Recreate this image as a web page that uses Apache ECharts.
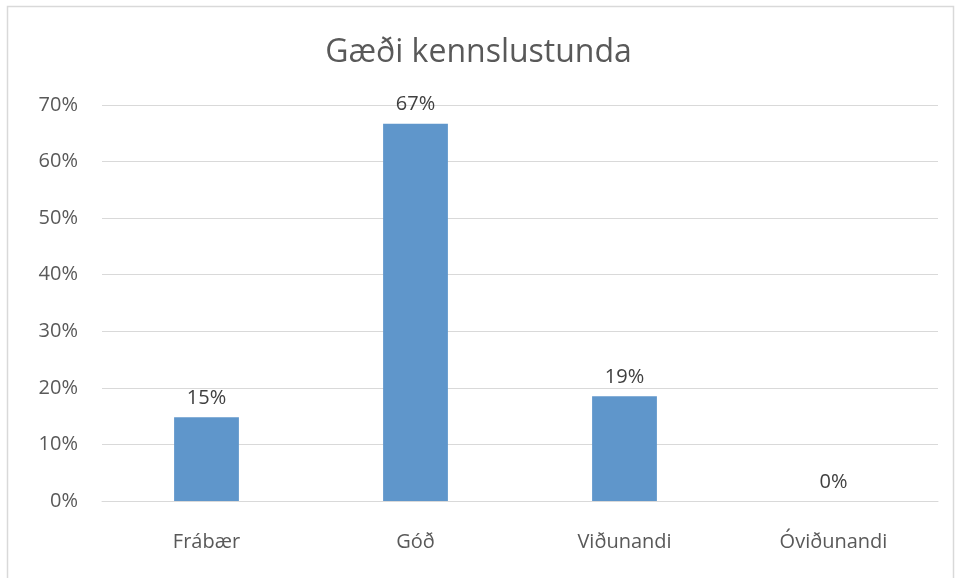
<!DOCTYPE html>
<html>
<head>
<meta charset="utf-8">
<script src="https://cdn.jsdelivr.net/npm/echarts@6/dist/echarts.min.js"></script>
<style>
    html, body { margin: 0; padding: 0; background: #fff; }
    #chart { width: 957px; height: 578px; }
</style>
</head>
<body>
<div id="chart"></div>
<script>
const categories = ['Frábær', 'Góð', 'Viðunandi', 'Óviðunandi'];
const shares = [14.8, 66.7, 18.5, 0];
const yTicks = [0, 10, 20, 30, 40, 50, 60, 70];

const font = '"Open Sans", "Noto Sans", sans-serif';
const chart = echarts.init(document.getElementById('chart'));

chart.setOption({
    animation: false,
    title: {
        text: 'Gæði kennslustunda',
        left: 'center',
        top: 32,
        textStyle: { fontFamily: font, fontSize: 32, fontWeight: 'normal', color: '#595959' }
    },
    graphic: [{
        type: 'rect',
        shape: { x: 7.5, y: 6.5, width: 946, height: 590 },
        style: { fill: null, stroke: '#d9d9d9', lineWidth: 1.5 },
        silent: true
    }],
    grid: { left: 102, right: 19, top: 105, bottom: 77 },
    xAxis: {
        type: 'category',
        data: categories,
        axisLine: { show: true, lineStyle: { color: '#d9d9d9' } },
        axisTick: { show: false },
        axisLabel: { fontFamily: font, fontSize: 20, color: '#595959', margin: 31 }
    },
    yAxis: {
        type: 'value',
        min: yTicks[0],
        max: yTicks[yTicks.length - 1],
        interval: 10,
        axisLine: { show: false },
        axisTick: { show: false },
        splitLine: { lineStyle: { color: '#d9d9d9', width: 1 } },
        axisLabel: {
            fontFamily: font, fontSize: 20, color: '#595959', margin: 24,
            formatter: v => v + '%'
        }
    },
    series: [{
        type: 'bar',
        data: shares,
        barWidth: '31%',
        itemStyle: { color: '#5f96cb' },
        label: {
            show: true,
            position: 'top',
            distance: 9,
            fontFamily: font,
            fontSize: 20,
            color: '#404040',
            formatter: p => Math.round(p.value) + '%'
        }
    }]
});
</script>
</body>
</html>
